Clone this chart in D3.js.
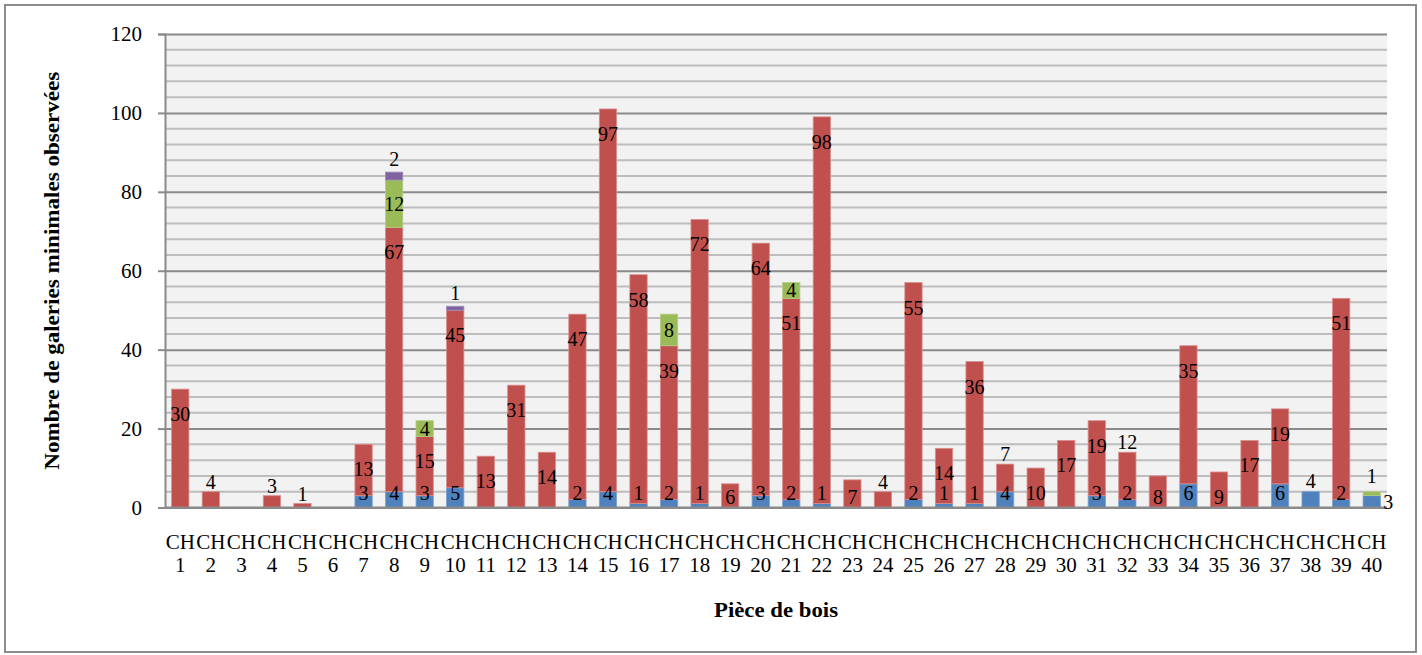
<!DOCTYPE html>
<html>
<head>
<meta charset="utf-8">
<script src="https://cdn.jsdelivr.net/npm/d3@7"></script>
<style>
  html, body { margin: 0; padding: 0; background: #ffffff; }
  svg { display: block; }
  text { font-family: "Liberation Serif", "DejaVu Serif", serif; fill: #000; }
</style>
</head>
<body>
<svg id="chart" width="1422" height="655"></svg>
<script>
// ---- data ----
const categories = ["CH 1","CH 2","CH 3","CH 4","CH 5","CH 6","CH 7","CH 8","CH 9","CH 10",
  "CH 11","CH 12","CH 13","CH 14","CH 15","CH 16","CH 17","CH 18","CH 19","CH 20",
  "CH 21","CH 22","CH 23","CH 24","CH 25","CH 26","CH 27","CH 28","CH 29","CH 30",
  "CH 31","CH 32","CH 33","CH 34","CH 35","CH 36","CH 37","CH 38","CH 39","CH 40"];
const seriesBlue   = [0,0,0,0,0,0,3,4,3,5,0,0,0,2,4,1,2,1,0,3,2,1,0,0,2,1,1,4,0,0,3,2,0,6,0,0,6,4,2,3];
const seriesRed    = [30,4,0,3,1,0,13,67,15,45,13,31,14,47,97,58,39,72,6,64,51,98,7,4,55,14,36,7,10,17,19,12,8,35,9,17,19,0,51,0];
const seriesGreen  = [0,0,0,0,0,0,0,12,4,0,0,0,0,0,0,0,8,0,0,0,4,0,0,0,0,0,0,0,0,0,0,0,0,0,0,0,0,0,0,1];
const seriesPurple = [0,0,0,0,0,0,0,2,0,1,0,0,0,0,0,0,0,0,0,0,0,0,0,0,0,0,0,0,0,0,0,0,0,0,0,0,0,0,0,0];
const yTicks = [0,20,40,60,80,100,120];
const yTitle = "Nombre de galeries minimales observées";
const xTitle = "Pièce de bois";

const keys = ["blue","red","green","purple"];
const colors = {blue:"#4F81BD", red:"#C0504D", green:"#9BBB59", purple:"#8064A2"};
const edge = {blue:"#7da0cc", red:"#d98e8c", green:"#b5cd86", purple:"#a08bbb"};

const table = categories.map((c,i) => ({cat:c, blue:seriesBlue[i], red:seriesRed[i], green:seriesGreen[i], purple:seriesPurple[i]}));

// ---- layout ----
const svg = d3.select("#chart");
const L = 165, R = 1387, T = 34, B = 507.5;

svg.append("rect").attr("x",5).attr("y",5).attr("width",1411).attr("height",647)
  .attr("fill","#fff").attr("stroke","#8c8c8c").attr("stroke-width",2);

const x = d3.scaleBand().domain(categories).range([L,R]).paddingInner(0.434).paddingOuter(0.217);
const y = d3.scaleLinear().domain([0,120]).range([B,T]);

// plot area
svg.append("rect").attr("x",L).attr("y",T).attr("width",R-L).attr("height",B-T).attr("fill","#f2f2f2");

// minor gridlines
const minor = d3.range(0,121,4).filter(v => v % 20 !== 0);
svg.append("g").selectAll("line").data(minor).join("line")
  .attr("x1",L).attr("x2",R).attr("y1",d=>y(d)).attr("y2",d=>y(d))
  .attr("stroke","#bdbdbd").attr("stroke-width",2);

// y axis with major grid
const yAxis = d3.axisLeft(y).tickValues(yTicks).tickSize(7).tickPadding(16).tickFormat(d3.format("d"));
const gy = svg.append("g").attr("transform",`translate(${L},0)`).call(yAxis);
gy.select(".domain").attr("stroke","#8a8a8a").attr("stroke-width",2);
gy.selectAll(".tick line").attr("stroke","#8a8a8a").attr("stroke-width",2);
gy.selectAll(".tick text").attr("font-size",21).attr("font-family","'Liberation Serif', serif").attr("fill","#000");
gy.selectAll(".tick").append("line").attr("x1",0).attr("x2",R-L).attr("y1",0).attr("y2",0)
  .attr("stroke","#8a8a8a").attr("stroke-width",2);

// bars
const stack = d3.stack().keys(keys)(table);
const gBars = svg.append("g");
stack.forEach(layer => {
  const k = layer.key;
  gBars.append("g").selectAll("rect").data(layer.filter(d => d[1]-d[0] > 0)).join("rect")
    .attr("x", d => x(d.data.cat))
    .attr("width", x.bandwidth())
    .attr("y", d => y(d[1]))
    .attr("height", d => y(d[0]) - y(d[1]))
    .attr("fill", colors[k])
    .attr("stroke", edge[k]).attr("stroke-width",0.8);
});

// x axis line
svg.append("line").attr("x1",L).attr("x2",R).attr("y1",B).attr("y2",B)
  .attr("stroke","#8a8a8a").attr("stroke-width",2);

// data labels
const gLab = svg.append("g").attr("font-size",20).attr("text-anchor","middle");
stack.forEach(layer => {
  const k = layer.key;
  layer.forEach(d => {
    const v = d[1]-d[0];
    if (v <= 0) return;
    const top = y(d[1]), base = y(d[0]), h = base - top;
    let cy, cx = x(d.data.cat) + x.bandwidth()/2, anchor = "middle";
    if (k === "blue") {
      if (d.data.red > 0) cy = y(0) - 15;
      else if (d.data.green > 0) { cy = (top + base)/2; cx = x(d.data.cat) + x.bandwidth() + 3; anchor = "start"; }
      else cy = top - 11;
    } else if (k === "red") {
      const hasBlue = d.data.blue > 0;
      if (h >= (hasBlue ? 50 : 45)) cy = top + 25;
      else if (hasBlue || h < 20) cy = top - 10;
      else cy = Math.min(top + 25, y(0) - 11);
    } else if (k === "green") {
      cy = h >= 15 ? (top + base)/2 : top - 16;
    } else {
      cy = top - 13;
    }
    gLab.append("text").attr("x", cx).attr("y", cy).attr("text-anchor", anchor)
      .attr("dy","0.35em").text(v);
  });
});

// x category labels (wrapped)
const gx = svg.append("g").attr("font-size",21).attr("text-anchor","middle");
categories.forEach(c => {
  const parts = c.split(" ");
  const cx = x(c) + x.bandwidth()/2;
  gx.append("text").attr("x",cx).attr("y",542).attr("dy","0.35em").text(parts[0]);
  gx.append("text").attr("x",cx).attr("y",565).attr("dy","0.35em").text(parts[1]);
});

// titles
svg.append("text").attr("x",(L+R)/2).attr("y",610).attr("dy","0.35em")
  .attr("text-anchor","middle").attr("font-weight","bold").attr("font-size",20)
  .attr("textLength",124).attr("lengthAdjust","spacingAndGlyphs").text(xTitle);
svg.append("text").attr("transform",`translate(52,${(T+B)/2}) rotate(-90)`).attr("dy","0.35em")
  .attr("text-anchor","middle").attr("font-weight","bold").attr("font-size",20)
  .attr("textLength",398).attr("lengthAdjust","spacingAndGlyphs").text(yTitle);
</script>
</body>
</html>
